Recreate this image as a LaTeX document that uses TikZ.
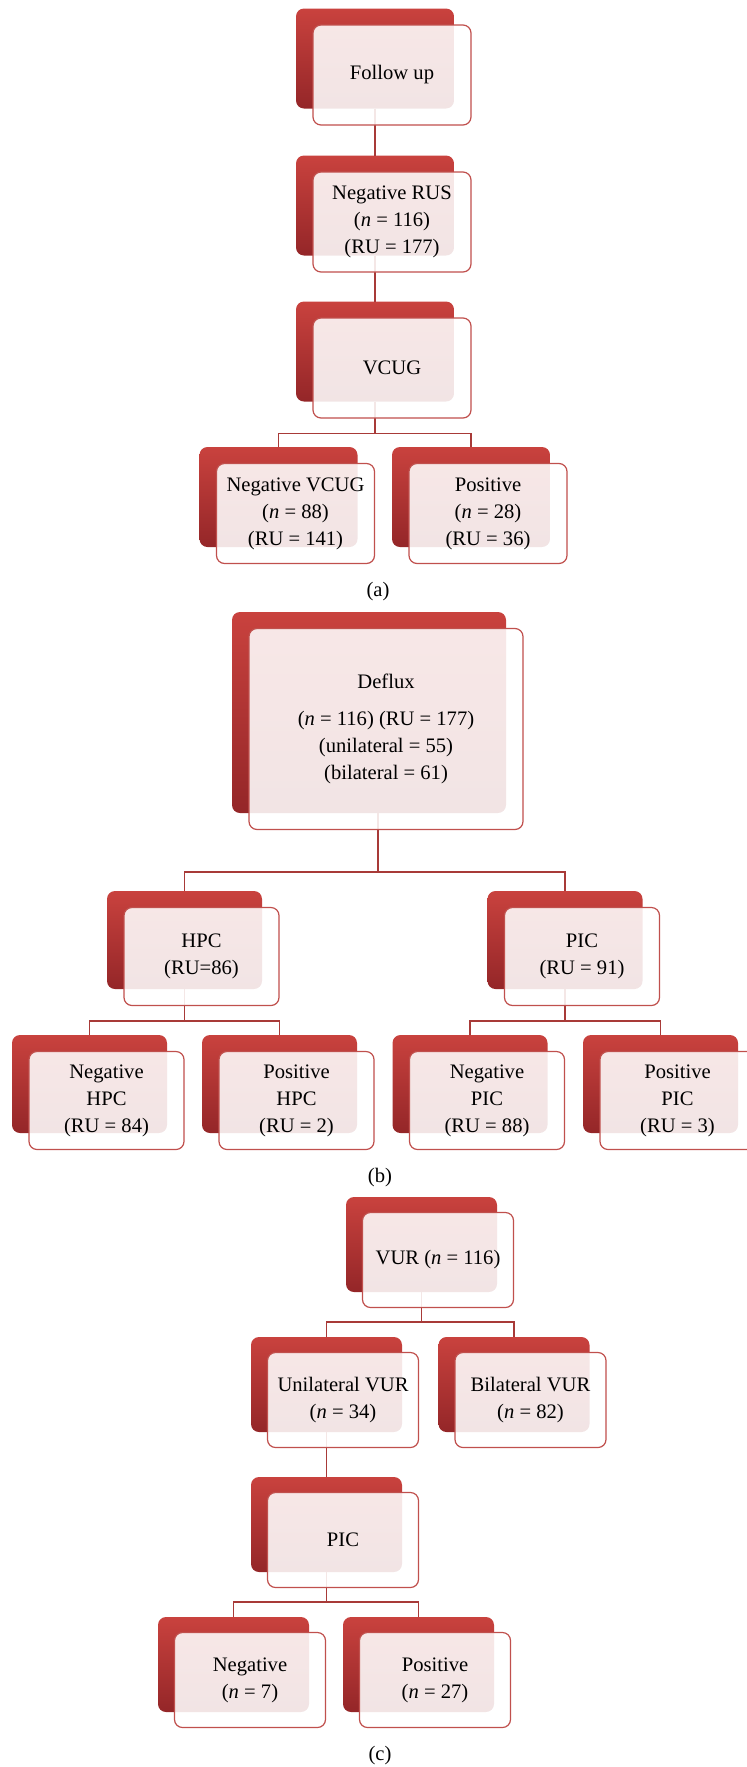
\documentclass[tikz,border=0pt]{standalone}
\usepackage{fontspec}
\setmainfont{Liberation Serif}
\usepackage{tikz}
\usetikzlibrary{positioning}
\definecolor{redtop}{RGB}{201,66,62}
\definecolor{redbot}{RGB}{148,38,40}
\definecolor{redline}{RGB}{192,80,77}
\definecolor{redlink}{RGB}{168,58,56}

\begin{document}
\begin{tikzpicture}[x=0.5pt, y=0.5pt
  , backbox/.style={ rounded corners=4pt
                   , top color=redtop
                   , bottom color=redbot
                   , inner sep=0pt
                   , outer sep=0pt
                   }
  , frontbox/.style={ rounded corners=4pt
                    , draw=redline
                    , line width=0.6pt
                    , fill=white
                    , fill opacity=0.88
                    , text opacity=1
                    , align=center
                    , inner sep=0pt
                    , outer sep=0pt
                    , font=\fontsize{10.3}{13.5}\selectfont
                    }
  , sizea/.style={minimum width=79pt, minimum height=50pt}
  , sizeb/.style={minimum width=77.5pt, minimum height=49pt}
  , sizec/.style={minimum width=75.5pt, minimum height=47.5pt}
  , sized/.style={minimum width=137pt, minimum height=100.5pt}
  , link/.style={draw=redlink, line width=0.75pt}
  , caption/.style={font=\fontsize{10.3}{12}\selectfont}
  ]

  \useasboundingbox (0,0) rectangle (746,-1767);

  % (a)
  \node[backbox, sizea] (followup-b) at (375,-58.5) {};
  \node[backbox, sizea] (negrus-b) at (375,-205.5) {};
  \node[backbox, sizea] (vcug-b) at (375,-351.5) {};
  \node[backbox, sizea] (negvcug-b) at (278.5,-497) {};
  \node[backbox, sizea] (posvcug-b) at (471,-497) {};

  % (b)
  \node[backbox, sized] (deflux-b) at (369,-712.5) {};
  \node[backbox, sizeb] (hpc-b) at (184.5,-940) {};
  \node[backbox, sizeb] (pic-b) at (565,-940) {};
  \node[backbox, sizeb] (neghpc-b) at (89.5,-1084) {};
  \node[backbox, sizeb] (poshpc-b) at (279.5,-1084) {};
  \node[backbox, sizeb] (negpic-b) at (470,-1084) {};
  \node[backbox, sizeb] (pospic-b) at (660.5,-1084) {};

  % (c)
  \node[backbox, sizec] (vur-b) at (421.5,-1244.5) {};
  \node[backbox, sizec] (unilat-b) at (326.5,-1384.5) {};
  \node[backbox, sizec] (bilat-b) at (514,-1384.5) {};
  \node[backbox, sizec] (vurpic-b) at (326.5,-1524.5) {};
  \node[backbox, sizec] (vurneg-b) at (233.5,-1664.5) {};
  \node[backbox, sizec] (vurpos-b) at (418.5,-1664.5) {};

  \draw[link] (followup-b.south) -- (negrus-b.north);
  \draw[link] (negrus-b.south) -- (vcug-b.north);
  \draw[link] (vcug-b.south) -- ++(0,-32) coordinate (vcug-bus);
  \draw[link] (negvcug-b.north) |- (vcug-bus) -| (posvcug-b.north);

  \draw[link] ([xshift=4.5pt]deflux-b.south) -- ++(0,-59) coordinate (deflux-bus);
  \draw[link] (hpc-b.north) |- (deflux-bus) -| (pic-b.north);
  \draw[link] (hpc-b.south) -- ++(0,-32) coordinate (hpc-bus);
  \draw[link] (neghpc-b.north) |- (hpc-bus) -| (poshpc-b.north);
  \draw[link] (pic-b.south) -- ++(0,-32) coordinate (pic-bus);
  \draw[link] (negpic-b.north) |- (pic-bus) -| (pospic-b.north);

  \draw[link] (vur-b.south) -- ++(0,-30) coordinate (vur-bus);
  \draw[link] (unilat-b.north) |- (vur-bus) -| (bilat-b.north);
  \draw[link] (unilat-b.south) -- (vurpic-b.north);
  \draw[link] (vurpic-b.south) -- ++(0,-30) coordinate (vurpic-bus);
  \draw[link] (vurneg-b.north) |- (vurpic-bus) -| (vurpos-b.north);

  \node[frontbox, sizea] (followup) at ([shift={(17,-16.5)}]followup-b) {Follow up};
  \node[frontbox, sizea] (negrus) at ([shift={(17,-16.5)}]negrus-b) {Negative RUS\\(\textit{n} = 116)\\(RU = 177)};
  \node[frontbox, sizea] (vcug) at ([shift={(17,-16.5)}]vcug-b) {VCUG};
  \node[frontbox, sizea] (negvcug) at ([shift={(17,-16.5)}]negvcug-b) {Negative VCUG\\(\textit{n} = 88)\\(RU = 141)};
  \node[frontbox, sizea] (posvcug) at ([shift={(17,-16.5)}]posvcug-b) {Positive\\(\textit{n} = 28)\\(RU = 36)};

  \node[frontbox, sized] (deflux) at ([shift={(17,-16.5)}]deflux-b) {Deflux\\[5pt](\textit{n} = 116) (RU = 177)\\(unilateral = 55)\\(bilateral = 61)};
  \node[frontbox, sizeb] (hpc) at ([shift={(17,-16.5)}]hpc-b) {HPC\\(RU=86)};
  \node[frontbox, sizeb] (pic) at ([shift={(17,-16.5)}]pic-b) {PIC\\(RU = 91)};
  \node[frontbox, sizeb] (neghpc) at ([shift={(17,-16.5)}]neghpc-b) {Negative\\HPC\\(RU = 84)};
  \node[frontbox, sizeb] (poshpc) at ([shift={(17,-16.5)}]poshpc-b) {Positive\\HPC\\(RU = 2)};
  \node[frontbox, sizeb] (negpic) at ([shift={(17,-16.5)}]negpic-b) {Negative\\PIC\\(RU = 88)};
  \node[frontbox, sizeb] (pospic) at ([shift={(17,-16.5)}]pospic-b) {Positive\\PIC\\(RU = 3)};

  \node[frontbox, sizec] (vur) at ([shift={(16.5,-15.5)}]vur-b) {VUR (\textit{n} = 116)};
  \node[frontbox, sizec] (unilat) at ([shift={(16.5,-15.5)}]unilat-b) {Unilateral VUR\\(\textit{n} = 34)};
  \node[frontbox, sizec] (bilat) at ([shift={(16.5,-15.5)}]bilat-b) {Bilateral VUR\\(\textit{n} = 82)};
  \node[frontbox, sizec] (vurpic) at ([shift={(16.5,-15.5)}]vurpic-b) {PIC};
  \node[frontbox, sizec] (vurneg) at ([shift={(16.5,-15.5)}]vurneg-b) {Negative\\(\textit{n} = 7)};
  \node[frontbox, sizec] (vurpos) at ([shift={(16.5,-15.5)}]vurpos-b) {Positive\\(\textit{n} = 27)};

  \node[caption] (capa) at (378,-592) {(a)};
  \node[caption] (capb) at (380,-1178) {(b)};
  \node[caption] (capc) at (380,-1756) {(c)};

\end{tikzpicture}
\end{document}
